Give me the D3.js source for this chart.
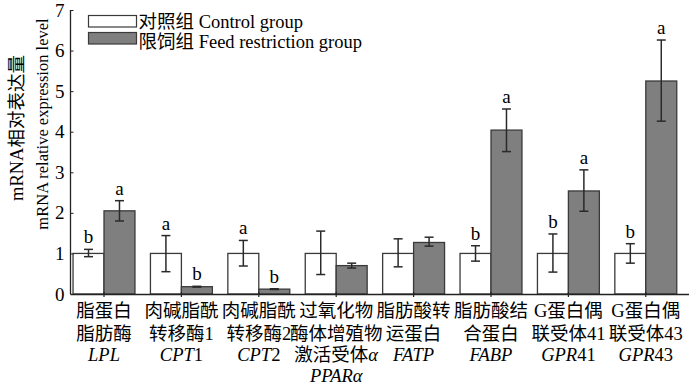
<!DOCTYPE html>
<html><head><meta charset="utf-8">
<script src="https://cdn.jsdelivr.net/npm/d3@7/dist/d3.min.js"></script>
<style>
body{margin:0;background:#fff;}
svg{display:block;}
text{font-family:"Liberation Serif","Noto Sans CJK SC",serif;fill:#000;}
</style></head><body>
<svg id="chart" width="700" height="385"></svg>
<script>
// ---- data ----
const categories = ["LPL","CPT1","CPT2","PPARa","FATP","FABP","GPR41","GPR43"];
const catNames = [
  ["脂蛋白","脂肪酶"],
  ["肉碱脂酰","转移酶1"],
  ["肉碱脂酰","转移酶2"],
  ["过氧化物","酶体增殖物","激活受体α"],
  ["脂肪酸转","运蛋白"],
  ["脂肪酸结","合蛋白"],
  ["G蛋白偶","联受体41"],
  ["G蛋白偶","联受体43"]
];
const geneItalic = ["LPL","CPT","CPT","PPARα","FATP","FABP","GPR","GPR"];
const geneSuffix = ["","1","2","","","","41","43"];
const seriesNames = ["对照组 Control group","限饲组 Feed restriction group"];
const controlMean = [1.0,1.0,1.0,1.0,1.0,1.0,1.0,1.0];
const controlLow  = [0.92,0.55,0.69,0.48,0.67,0.81,0.54,0.76];
const controlHigh = [1.10,1.44,1.32,1.55,1.36,1.19,1.48,1.24];
const restrictMean = [2.05,0.18,0.12,0.70,1.27,4.04,2.54,5.25];
const restrictLow  = [1.80,0.17,0.11,0.64,1.18,3.51,2.04,4.26];
const restrictHigh = [2.30,0.19,0.13,0.76,1.40,4.56,3.06,6.26];
const controlLetter = ["b","a","a","","","b","b","b"];
const restrictLetter = ["a","b","b","","","a","a","a"];
const yTicks = [0,1,2,3,4,5,6,7];

// ---- layout ----
const svg = d3.select("#chart");
const axisX = 70.5, baseY = 294, topY = 10, rightX = 689;
const y = d3.scaleLinear().domain([0,7]).range([baseY, topY]);
const x0 = d3.scaleBand().domain(categories).range([65.3, 684.5]).paddingInner(0.2).paddingOuter(0.1);
const x1 = d3.scaleBand().domain(["c","r"]).range([0, x0.bandwidth()]);
const fills = {c:"#ffffff", r:"#7f7f7f"};

const data = categories.map((k,i)=>({k,i,
  bars:[{s:"c",m:controlMean[i],lo:controlLow[i],hi:controlHigh[i],L:controlLetter[i]},
        {s:"r",m:restrictMean[i],lo:restrictLow[i],hi:restrictHigh[i],L:restrictLetter[i]}]}));

const g = svg.selectAll("g.grp").data(data).join("g").attr("class","grp")
  .attr("transform",d=>`translate(${x0(d.k)},0)`);
g.selectAll("rect").data(d=>d.bars).join("rect")
  .attr("x",b=>x1(b.s)).attr("width",x1.bandwidth())
  .attr("y",b=>y(b.m)).attr("height",b=>y(0)-y(b.m))
  .attr("fill",b=>fills[b.s]).attr("stroke","#3a3a3a").attr("stroke-width",1.3);
const cap = 4.5;
const eb = g.selectAll("g.eb").data(d=>d.bars).join("g").attr("class","eb")
  .attr("stroke","#2a2a2a").attr("stroke-width",1.5);
eb.append("line").attr("x1",b=>x1(b.s)+x1.bandwidth()/2).attr("x2",b=>x1(b.s)+x1.bandwidth()/2)
  .attr("y1",b=>y(b.lo)).attr("y2",b=>y(b.hi));
eb.append("line").attr("x1",b=>x1(b.s)+x1.bandwidth()/2-cap).attr("x2",b=>x1(b.s)+x1.bandwidth()/2+cap)
  .attr("y1",b=>y(b.hi)).attr("y2",b=>y(b.hi));
eb.append("line").attr("x1",b=>x1(b.s)+x1.bandwidth()/2-cap).attr("x2",b=>x1(b.s)+x1.bandwidth()/2+cap)
  .attr("y1",b=>y(b.lo)).attr("y2",b=>y(b.lo));
g.selectAll("text.let").data(d=>d.bars.filter(b=>b.L)).join("text").attr("class","let")
  .attr("x",b=>x1(b.s)+x1.bandwidth()/2).attr("y",b=>y(b.hi)-6)
  .attr("text-anchor","middle").attr("font-size",19).text(b=>b.L);

// ---- axes ----
const yAxis = d3.axisLeft(y).tickValues(yTicks).tickSize(-3).tickPadding(6).tickFormat(d3.format("d"));
const ya = svg.append("g").attr("transform",`translate(${axisX},0)`).call(yAxis);
ya.select(".domain").attr("d",`M0,${topY}V${baseY}`).attr("stroke","#222").attr("stroke-width",1.3);
ya.selectAll(".tick line").attr("stroke","#222");
ya.selectAll(".tick text").attr("font-size",19).attr("font-family",'"Liberation Serif",serif').attr("fill","#000");

svg.append("line").attr("x1",axisX).attr("x2",rightX).attr("y1",baseY+0.5).attr("y2",baseY+0.5)
  .attr("stroke","#222").attr("stroke-width",1.3);
svg.selectAll("line.xt").data(categories).join("line").attr("class","xt")
  .attr("x1",d=>x0(d)+x0.bandwidth()/2).attr("x2",d=>x0(d)+x0.bandwidth()/2)
  .attr("y1",baseY-2).attr("y2",baseY+3).attr("stroke","#222").attr("stroke-width",1.2);

// category labels
const rowY = [317, 340, 361, 382];
function addSegs(t, str){
  const parts = str.split(/(α)/).filter(s=>s);
  parts.forEach(p=>t.append("tspan").attr("font-style",p==="α"?"italic":"normal").text(p));
}
categories.forEach((k,i)=>{
  const cx = x0(k)+x0.bandwidth()/2;
  const lines = catNames[i];
  lines.forEach((ln,j)=>{
    const t = svg.append("text").attr("x",cx).attr("y",rowY[j]).attr("text-anchor","middle").attr("font-size",18.5);
    addSegs(t, ln);
  });
  const t = svg.append("text").attr("x",cx).attr("y",rowY[lines.length]).attr("text-anchor","middle").attr("font-size",18.5);
  t.append("tspan").attr("font-style","italic").text(geneItalic[i]);
  if (geneSuffix[i]) t.append("tspan").text(geneSuffix[i]);
});

// y titles
svg.append("text").attr("transform","translate(17,128) rotate(-90)").attr("text-anchor","middle")
  .attr("dominant-baseline","central").attr("font-size",18.5).text("mRNA相对表达量");
svg.append("text").attr("transform","translate(42,124) rotate(-90)").attr("text-anchor","middle")
  .attr("dominant-baseline","central").attr("font-size",16.5).text("mRNA relative expression level");

// legend
const lg = svg.append("g").attr("transform","translate(88.5,15.5)");
const li = lg.selectAll("g").data(seriesNames).join("g").attr("transform",(d,i)=>`translate(0,${i*17})`);
li.append("rect").attr("width",48).attr("height",11.5).attr("fill",(d,i)=>i?fills.r:fills.c)
  .attr("stroke","#3a3a3a").attr("stroke-width",1.2);
li.append("text").attr("x",50).attr("y",(d,i)=>6.5+i*2.5).attr("dominant-baseline","central").attr("font-size",18.5).text(d=>d);
</script>
</body></html>
